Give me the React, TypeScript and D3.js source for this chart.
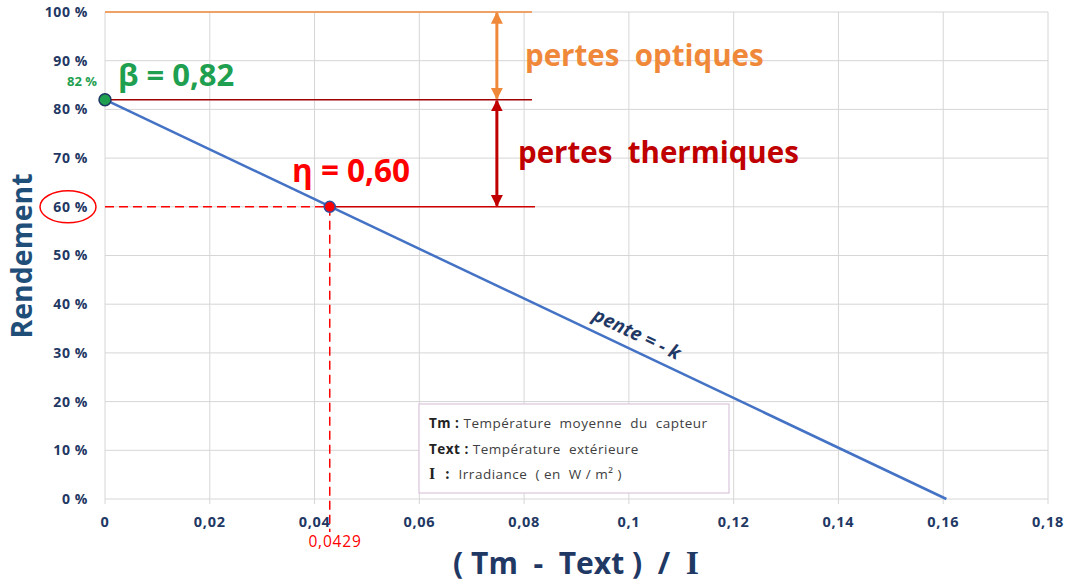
import React from "react";
import * as d3 from "d3";

// values
const xTicks = [0, 0.02, 0.04, 0.06, 0.08, 0.1, 0.12, 0.14, 0.16, 0.18];
const xTickLabels = ["0", "0,02", "0,04", "0,06", "0,08", "0,1", "0,12", "0,14", "0,16", "0,18"];
const yTicks = [0, 0.1, 0.2, 0.3, 0.4, 0.5, 0.6, 0.7, 0.8, 0.9, 1];
const yTickLabels = ["0 %", "10 %", "20 %", "30 %", "40 %", "50 %", "60 %", "70 %", "80 %", "90 %", "100 %"];
const lineX = [0, 0.1606];
const lineY = [0.82, 0];
const beta = 0.82;
const eta = 0.6;
const xEta = 0.0429;
const arrowX = 0.0748;
const refLineEnd = 0.0815;
const legendLines = [
  ["Tm :", " Température  moyenne  du  capteur"],
  ["Text :", " Température  extérieure"],
  ["I  :", "  Irradiance  ( en  W / m² )"],
];

const W = 1070;
const H = 585;
const left = 105;
const right = 1048;
const top = 12;
const bottom = 499;

const navy = "#1f3864";
const grid = "#d6d6d6";
const font = "'Open Sans', Lato, sans-serif";
const pre = { whiteSpace: "pre" as const };

export default function App() {
  const x = d3.scaleLinear().domain([0, 0.18]).range([left, right]);
  const y = d3.scaleLinear().domain([0, 1]).range([bottom, top]);
  const pts: [number, number][] = lineX.map((v, i) => [v, lineY[i]]);
  const line = d3
    .line<[number, number]>()
    .x((d) => x(d[0]))
    .y((d) => y(d[1]));

  const angle = (Math.atan2(y(lineY[1]) - y(lineY[0]), x(lineX[1]) - x(lineX[0])) * 180) / Math.PI;
  const penteX = 0.101;
  const penteY = beta - (beta * penteX) / lineX[1];

  return (
    <svg width={W} height={H} style={{ position: "absolute", left: 0, top: 0, background: "#fff" }} fontFamily={font}>
      <defs>
        <marker id="ao" viewBox="0 0 10 10" refX="9" refY="5" markerWidth="4" markerHeight="4.5" orient="auto-start-reverse">
          <path d="M0,0 L10,5 L0,10 z" fill="#f0883a" />
        </marker>
        <marker id="ar" viewBox="0 0 10 10" refX="9" refY="5" markerWidth="4" markerHeight="4.5" orient="auto-start-reverse">
          <path d="M0,0 L10,5 L0,10 z" fill="#c00000" />
        </marker>
      </defs>

      {/* grid */}
      {xTicks.map((t) => (
        <line key={"gx" + t} x1={x(t)} x2={x(t)} y1={top} y2={bottom + 5} stroke={grid} strokeWidth={1} />
      ))}
      {yTicks.map((t) => (
        <line key={"gy" + t} x1={left} x2={right} y1={y(t)} y2={y(t)} stroke={grid} strokeWidth={1} />
      ))}

      {/* tick labels */}
      {yTicks.map((t, i) => (
        <text key={"ty" + t} x={88} y={y(t)} dy="0.35em" textAnchor="end" fontSize={14} letterSpacing={0.6} fontWeight={700} fill={navy} style={pre}>
          {yTickLabels[i]}
        </text>
      ))}
      {xTicks.map((t, i) => (
        <text key={"tx" + t} x={x(t)} y={527} textAnchor="middle" fontSize={14.5} letterSpacing={0.7} fontWeight={700} fill={navy}>
          {xTickLabels[i]}
        </text>
      ))}

      {/* axis titles */}
      <text transform="translate(32,256) rotate(-90)" textAnchor="middle" fontSize={28.5} fontWeight={700} fill="#1f4e79">
        Rendement
      </text>
      <text x={576} y={574} textAnchor="middle" fontSize={30} fontWeight={700} fill={navy} style={pre}>
        {"( Tm  -  Text )  /  "}
        <tspan fontFamily="'Liberation Serif', serif" fontSize={34}>I</tspan>
      </text>

      {/* reference lines */}
      <line x1={x(0)} x2={x(refLineEnd)} y1={y(1)} y2={y(1)} stroke="#f0883a" strokeWidth={1.5} />
      <line x1={x(0)} x2={x(refLineEnd)} y1={y(beta)} y2={y(beta)} stroke="#a00000" strokeWidth={1.5} />
      <line x1={x(0)} x2={x(xEta)} y1={y(eta)} y2={y(eta)} stroke="#ff0000" strokeWidth={1.5} strokeDasharray="9,5" />
      <line x1={x(xEta)} x2={x(refLineEnd) + 3} y1={y(eta)} y2={y(eta)} stroke="#d00000" strokeWidth={1.5} />
      <line x1={x(xEta)} x2={x(xEta)} y1={y(eta)} y2={532} stroke="#ff0000" strokeWidth={1.5} strokeDasharray="9,5" />

      {/* arrows */}
      <line x1={x(arrowX)} x2={x(arrowX)} y1={y(1) + 1} y2={y(beta) - 1} stroke="#f0883a" strokeWidth={3} markerStart="url(#ao)" markerEnd="url(#ao)" />
      <line x1={x(arrowX)} x2={x(arrowX)} y1={y(beta) + 1} y2={y(eta) - 1} stroke="#c00000" strokeWidth={3} markerStart="url(#ar)" markerEnd="url(#ar)" />

      {/* legend box */}
      <rect x={419} y={404} width={310} height={89} fill="#fff" stroke="#dcc6dc" strokeWidth={1.2} />
      {legendLines.map((l, i) => (
        <text key={"lg" + i} x={429} y={428 + i * 25.5} fontSize={13.5} letterSpacing={0.5} fill="#404040" style={pre}>
          <tspan fontWeight={700} fill="#222" fontFamily={i === 2 ? "'Liberation Serif', serif" : font} fontSize={i === 2 ? 16 : 13.5}>
            {l[0]}
          </tspan>
          <tspan>{l[1]}</tspan>
        </text>
      ))}

      {/* main line */}
      <path d={line(pts) || ""} fill="none" stroke="#4472c4" strokeWidth={2.5} />

      {/* points */}
      <circle cx={x(0)} cy={y(beta)} r={6} fill="#1fa050" stroke="#1f3864" strokeWidth={1.5} />
      <circle cx={x(xEta)} cy={y(eta)} r={5.5} fill="#ff0000" stroke="#2f4f9f" strokeWidth={1.5} />

      {/* annotations */}
      <ellipse cx={68} cy={y(eta)} rx={28} ry={16} fill="none" stroke="#ff0000" strokeWidth={1.5} />
      <text x={97} y={86} textAnchor="end" fontSize={13} fontWeight={700} fill="#1fa050" style={pre}>
        82 %
      </text>
      <text x={118} y={86} fontSize={31} fontWeight={700} fill="#1fa050">
        β = 0,82
      </text>
      <text x={292} y={182} fontSize={31.5} fontWeight={700} fill="#ff0000">
        η = 0,60
      </text>
      <text x={335} y={547} textAnchor="middle" fontSize={15.5} letterSpacing={0.8} fill="#ff0000">
        0,0429
      </text>
      <text x={525} y={66} fontSize={29.5} fontWeight={700} fill="#f0883a" style={pre}>
        pertes  optiques
      </text>
      <text x={518} y={163} fontSize={29.5} fontWeight={700} fill="#c00000" style={pre}>
        pertes  thermiques
      </text>
      <text
        transform={`translate(${x(penteX)},${y(penteY) - 11}) rotate(${angle})`}
        textAnchor="middle"
        fontSize={19}
        fontWeight={700}
        fontStyle="italic"
        fill={navy}
      >
        pente = - k
      </text>
    </svg>
  );
}
